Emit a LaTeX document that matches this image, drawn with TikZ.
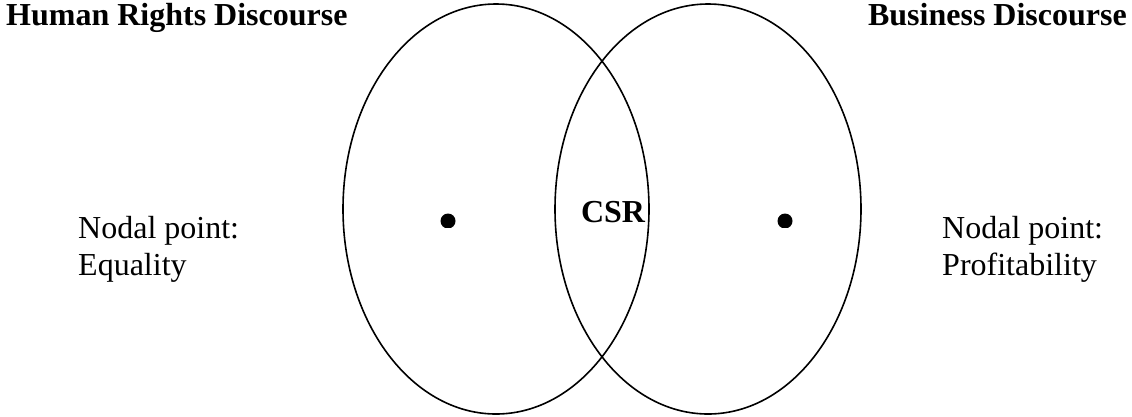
\documentclass[tikz,border=0pt]{standalone}
\usepackage{fontspec}
\setmainfont{Liberation Serif}
\usetikzlibrary{positioning}

\begin{document}
\begin{tikzpicture}[x=1pt, y=-1pt,
    title/.style={font=\fontsize{32}{37}\selectfont\bfseries, inner sep=0pt},
    nodal/.style={font=\fontsize{32}{37}\selectfont, align=left, inner sep=0pt},
    circ/.style={line width=1.6pt}]
  \useasboundingbox (0,0) rectangle (1132,416);
  % the two discourses
  \coordinate (hr) at (496,209);
  \coordinate (bd) at (708,209);
  \draw[circ] (hr) ellipse [x radius=153pt, y radius=205pt];
  \draw[circ] (bd) ellipse [x radius=153pt, y radius=205pt];
  % nodal points
  \coordinate (dotL) at (448,221);
  \coordinate (dotR) at (785,221);
  \begin{scope}
    \clip (0,0) rectangle (1132,227);
    \fill (dotL) circle [radius=7.5pt];
    \fill (dotR) circle [radius=7.5pt];
  \end{scope}
  \node[title, anchor=base west] (hrtitle) at (6,25) {Human Rights Discourse};
  \node[title, anchor=base east] (bdtitle) at (1127,25) {Business Discourse};
  \node[title, anchor=base] (csr) at (613,222) {CSR};
  \node[nodal, anchor=west] (equal) at (78,249) {Nodal point:\\Equality};
  \node[nodal, anchor=west] (profit) at (942,249) {Nodal point:\\Profitability};
\end{tikzpicture}
\end{document}
